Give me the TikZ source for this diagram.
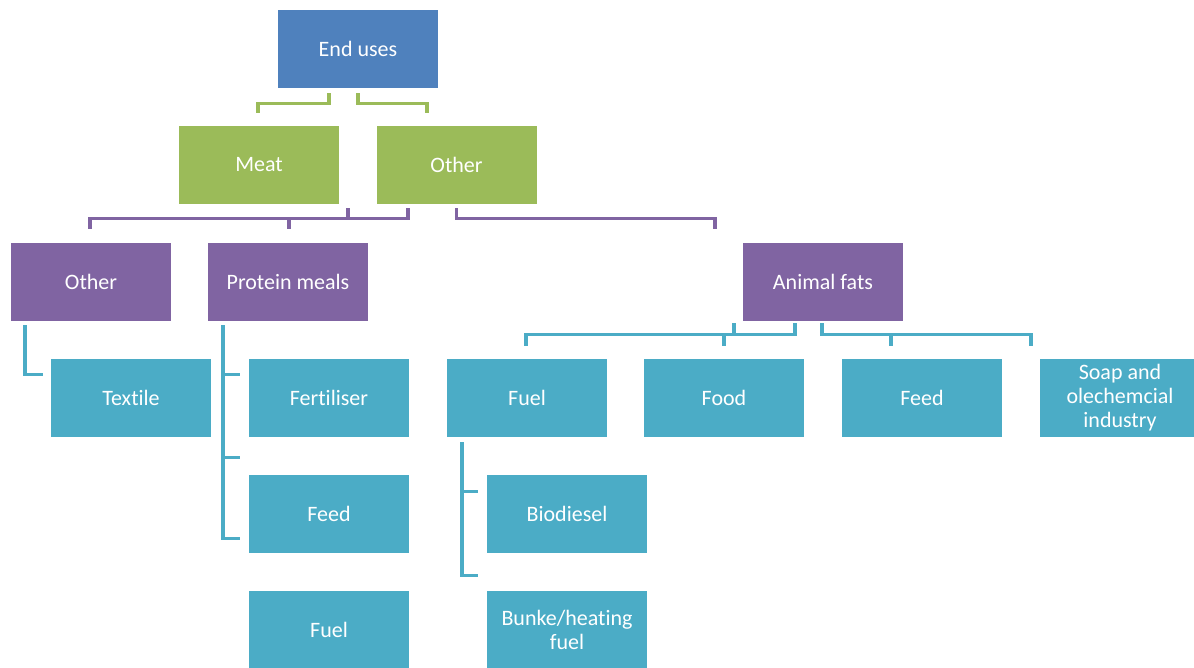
\documentclass[tikz,border=0pt]{standalone}
\usepackage{fontspec}
\setmainfont[Ligatures={NoCommon}]{Carlito}
\definecolor{cblue}{HTML}{4F81BD}
\definecolor{cgreen}{HTML}{9BBB59}
\definecolor{cpurple}{HTML}{8064A2}
\definecolor{cteal}{HTML}{4BACC6}
\begin{document}
\begin{tikzpicture}[x=1pt,y=-1pt,
  box/.style={draw=none,minimum width=160pt,minimum height=78pt,inner sep=2pt,
    text=white,font=\fontsize{22}{24}\selectfont,align=center},
  bluebox/.style={box,fill=cblue},
  greenbox/.style={box,fill=cgreen},
  purplebox/.style={box,fill=cpurple},
  tealbox/.style={box,fill=cteal},
  lnk/.style={line width=3.3pt,line join=miter},
  glink/.style={lnk,draw=cgreen},
  plink/.style={lnk,draw=cpurple},
  tlink/.style={lnk,draw=cteal}]
\useasboundingbox (0,0) rectangle (1194,668);
\fill[white] (0,0) rectangle (1194,668);
% nodes
\node[bluebox] (eu) at (358,49) {End uses};
\node[greenbox] (meat) at (259,165) {Meat};
\node[greenbox] (oth1) at (456.5,165) {Other};
\node[purplebox] (oth2) at (91,282) {Other};
\node[purplebox] (prot) at (288,282) {Protein meals};
\node[purplebox] (fats) at (823,282) {Animal fats};
\node[tealbox] (textile) at (131,398) {Textile};
\node[tealbox] (fert) at (329,398) {Fertiliser};
\node[tealbox] (feedL) at (329,514) {Feed};
\node[tealbox] (fuelL) at (329,629.5) {Fuel};
\node[tealbox] (fuelM) at (527,398) {Fuel};
\node[tealbox] (food) at (724,398) {Food};
\node[tealbox] (feedR) at (922,398) {Feed};
\node[tealbox] (soap) at (1120,398) {Soap and\\olechemcial\\industry};
\node[tealbox] (bio) at (567,514) {Biodiesel};
\node[tealbox] (bunke) at (567,629.5) {Bunke/heating\\fuel};
% green connectors
\draw[glink] ([xshift=-29pt,yshift=-5pt]eu.south) -- ++(0,10) -| ([xshift=-1pt,yshift=13pt]meat.north);
\draw[glink] ([yshift=-5pt]eu.south) -- ++(0,10) -| ([xshift=-29.5pt,yshift=13pt]oth1.north);
% purple connectors
\draw[plink] ([xshift=89pt,yshift=-4pt]meat.south) -- ++(0,10);
\draw[plink] ([xshift=-48.5pt,yshift=-4pt]oth1.south) -- ++(0,10) -| ([xshift=-1pt,yshift=14pt]oth2.north);
\draw[plink] ([xshift=1pt,yshift=14pt]prot.north) -- ++(0,-11);
\draw[plink] ([yshift=-4pt]oth1.south) -- ++(0,10) -| ([xshift=-108pt,yshift=14pt]fats.north);
% teal connectors under animal fats
\draw[tlink] ([xshift=-28pt,yshift=-2pt]fats.south) -- ++(0,11) -| ([xshift=-1pt,yshift=13pt]fuelM.north);
\draw[tlink] ([xshift=-89pt,yshift=-2pt]fats.south) -- ++(0,11);
\draw[tlink] ([yshift=13pt]food.north) -- ++(0,-12);
\draw[tlink] ([xshift=-1pt,yshift=-2pt]fats.south) -- ++(0,11) -| ([xshift=-89pt,yshift=13pt]soap.north);
\draw[tlink] ([xshift=-31pt,yshift=13pt]feedR.north) -- ++(0,-12);
% teal connectors left
\draw[tlink] ([xshift=-66pt,yshift=-4pt]oth2.south) |- ([xshift=-8pt,yshift=-16pt]textile.north west);
\draw[tlink] ([xshift=-65pt,yshift=-4pt]prot.south) |- ([xshift=-9pt,yshift=-64pt]feedL.north west);
\draw[tlink] ([xshift=-9pt,yshift=-16pt]fert.north west) -- ++(-17,0);
\draw[tlink] ([xshift=-9pt,yshift=-20pt]fert.south west) -- ++(-17,0);
\draw[tlink] ([xshift=-65pt,yshift=-5pt]fuelM.south) |- ([xshift=-9pt,yshift=-22pt]bio.south west);
\draw[tlink] ([xshift=-9pt,yshift=-17pt]bio.north west) -- ++(-16,0);
\end{tikzpicture}
\end{document}
